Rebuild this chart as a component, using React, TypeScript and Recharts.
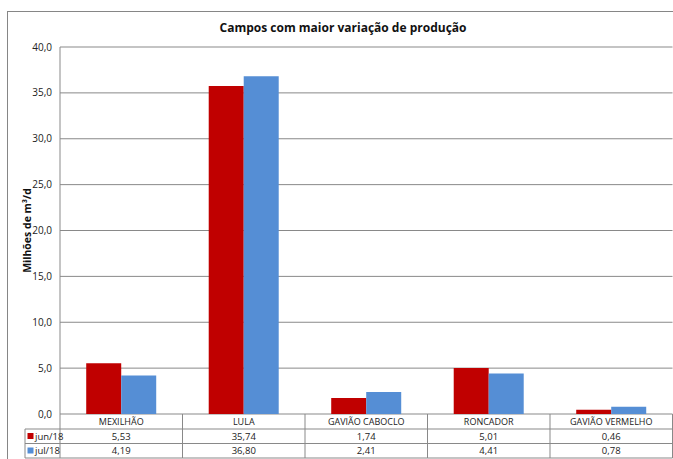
import { Bar, BarChart, CartesianGrid, XAxis, YAxis } from "recharts"

const campos = ["MEXILHÃO", "LULA", "GAVIÃO CABOCLO", "RONCADOR", "GAVIÃO VERMELHO"]
const jun18 = [5.53, 35.74, 1.74, 5.01, 0.46]
const jul18 = [4.19, 36.8, 2.41, 4.41, 0.78]
const yTicks = [0, 5, 10, 15, 20, 25, 30, 35, 40]
const series = [
  { key: "jun", label: "jun/18", values: jun18, color: "#C00000" },
  { key: "jul", label: "jul/18", values: jul18, color: "#558ED5" },
]

const data = campos.map((name, i) => ({ name, jun: jun18[i], jul: jul18[i] }))

const fmt1 = (v: number) => v.toFixed(1).replace(".", ",")
const fmt2 = (v: number) => v.toFixed(2).replace(".", ",")

const FONT = "'Open Sans', 'Noto Sans', sans-serif"
const GRID = "#898989"
const PLOT_LEFT = 60
const PLOT_RIGHT = 672.5
const ZERO_Y = 414
const ROW1 = 429
const ROW2 = 443.5
const ROW3 = 458
const BAND = (PLOT_RIGHT - PLOT_LEFT) / campos.length

function TableTick(props: any) {
  const { x, payload, index } = props
  const i = payload.index ?? index
  const x0 = x - BAND / 2
  const x1 = x + BAND / 2
  return (
    <g style={{ fontFamily: FONT }}>
      <line x1={x1} x2={x1} y1={ZERO_Y} y2={ROW3} stroke={GRID} />
      <line x1={x0} x2={x1} y1={ROW1} y2={ROW1} stroke={GRID} />
      <line x1={x0} x2={x1} y1={ROW2} y2={ROW2} stroke={GRID} />
      <line x1={x0} x2={x1} y1={ROW3} y2={ROW3} stroke={GRID} />
      <text x={x} y={(ZERO_Y + ROW1) / 2 + 3.5} textAnchor="middle" fontSize={9} fill="#222">
        {payload.value}
      </text>
      <text x={x} y={(ROW1 + ROW2) / 2 + 3.5} textAnchor="middle" fontSize={9.5} fill="#222">
        {fmt2(jun18[i])}
      </text>
      <text x={x} y={(ROW2 + ROW3) / 2 + 3.5} textAnchor="middle" fontSize={9.5} fill="#222">
        {fmt2(jul18[i])}
      </text>
      {i === 0 && (
        <g>
          <line x1={x0} x2={x0} y1={ZERO_Y} y2={ROW3} stroke={GRID} />
          <line x1={25} x2={25} y1={ROW1} y2={ROW3} stroke={GRID} />
          <line x1={25} x2={x0} y1={ROW1} y2={ROW1} stroke={GRID} />
          <line x1={25} x2={x0} y1={ROW2} y2={ROW2} stroke={GRID} />
          <line x1={25} x2={x0} y1={ROW3} y2={ROW3} stroke={GRID} />
          {series.map((s, k) => {
            const top = k === 0 ? ROW1 : ROW2
            return (
              <g key={s.key}>
                <rect x={27.5} y={top + 4} width={6} height={6} fill={s.color} />
                <text x={35} y={top + 10.5} fontSize={9.5} fill="#222">
                  {s.label}
                </text>
              </g>
            )
          })}
        </g>
      )}
    </g>
  )
}

export default function App() {
  return (
    <div style={{ position: "absolute", left: 0, top: 0, width: 673, height: 459, overflow: "hidden", background: "#fff" }}>
      <div
        style={{
          position: "absolute",
          left: 7,
          top: 11,
          width: 720,
          height: 520,
          border: "1px solid #868686",
        }}
      />
      <div
        style={{
          position: "absolute",
          left: 0,
          top: 19,
          width: 686,
          textAlign: "center",
          fontFamily: FONT,
          fontWeight: 700,
          fontSize: 12,
          color: "#111",
        }}
      >
        Campos com maior variação de produção
      </div>
      <div style={{ position: "absolute", left: 0, top: 0 }}>
        <BarChart
          width={673}
          height={459}
          data={data}
          margin={{ top: 47, right: 673 - PLOT_RIGHT, left: 0, bottom: 0 }}
          barCategoryGap="21.4%"
          barGap={0}
        >
          <CartesianGrid vertical={false} stroke={GRID} strokeWidth={1} />
          <YAxis
            width={PLOT_LEFT}
            domain={[0, 40]}
            ticks={yTicks}
            interval={0}
            tickFormatter={fmt1}
            tickLine={false}
            tickSize={0}
            tickMargin={8}
            axisLine={{ stroke: GRID }}
            tick={{ fontSize: 10, fill: "#222", fontFamily: FONT }}
            label={{
              value: "Milhões de m³/d",
              angle: -90,
              position: "insideLeft",
              offset: 27,
              style: { fontSize: 10.5, fontWeight: 700, fill: "#111", fontFamily: FONT, textAnchor: "middle" },
            }}
          />
          <XAxis
            dataKey="name"
            interval={0}
            tickLine={false}
            axisLine={false}
            height={459 - ZERO_Y}
            tick={<TableTick />}
          />
          {series.map((s) => (
            <Bar key={s.key} dataKey={s.key} name={s.label} fill={s.color} isAnimationActive={false} />
          ))}
        </BarChart>
      </div>
    </div>
  )
}
